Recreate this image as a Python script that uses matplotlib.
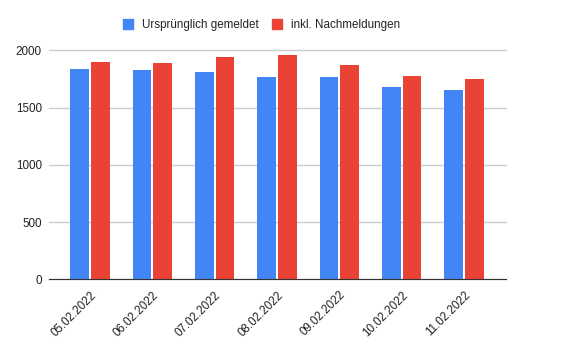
import numpy as np
import matplotlib
matplotlib.use("Agg")
import matplotlib.pyplot as plt
from matplotlib.patches import Patch
from matplotlib.transforms import ScaledTranslation

plt.rcParams['font.family'] = ['Liberation Sans', 'DejaVu Sans']

# data
dates = ["05.02.2022", "06.02.2022", "07.02.2022", "08.02.2022",
         "09.02.2022", "10.02.2022", "11.02.2022"]
original = [1837, 1828, 1810, 1767, 1767, 1680, 1653]
with_late = [1897, 1889, 1944, 1959, 1872, 1778, 1749]
yticks = [0, 500, 1000, 1500, 2000]

BLUE = "#4285F4"
RED = "#EA4335"
FS = 8.4

fig = plt.figure(figsize=(5.64, 3.52), dpi=100)
ax = fig.add_axes([0.0865, 0.2065, 0.8115, 0.6505])

x = np.arange(len(dates))
w = 0.30
ax.bar(x - 0.165, original, width=w, color=BLUE, zorder=3)
ax.bar(x + 0.165, with_late, width=w, color=RED, zorder=3)

ax.set_xlim(-0.66, len(dates) - 1 + 0.68)
ax.set_ylim(0, 2000)
ax.set_yticks(yticks)
ax.set_yticklabels([str(v) for v in yticks], fontsize=FS, color="#222222")
ax.set_xticks(x)
ax.set_xticklabels(dates, rotation=45, ha="right", rotation_mode="anchor",
                   fontsize=FS, color="#222222")
shift = ScaledTranslation(6 / 100, 0, fig.dpi_scale_trans)
for lbl in ax.get_xticklabels():
    lbl.set_transform(lbl.get_transform() + shift)

ax.grid(axis="y", color="#cccccc", linewidth=1, zorder=0)
for gl in ax.get_ygridlines():
    gl.set_clip_on(False)
for s in ["top", "right", "left"]:
    ax.spines[s].set_visible(False)
ax.spines["bottom"].set_color("#333333")
ax.spines["bottom"].set_zorder(4)
ax.tick_params(axis="both", length=0)
ax.tick_params(axis="y", pad=5)
ax.tick_params(axis="x", pad=7)

handles = [Patch(color=BLUE, label="Ursprünglich gemeldet"),
           Patch(color=RED, label="inkl. Nachmeldungen")]
fig.legend(handles=handles, loc="center", bbox_to_anchor=(0.4634, 0.929), ncol=2,
           frameon=False, fontsize=FS, handlelength=0.85, handleheight=0.85,
           handletextpad=0.77, columnspacing=1.17, labelcolor="#222222")

fig.savefig("out.png", dpi=100)
